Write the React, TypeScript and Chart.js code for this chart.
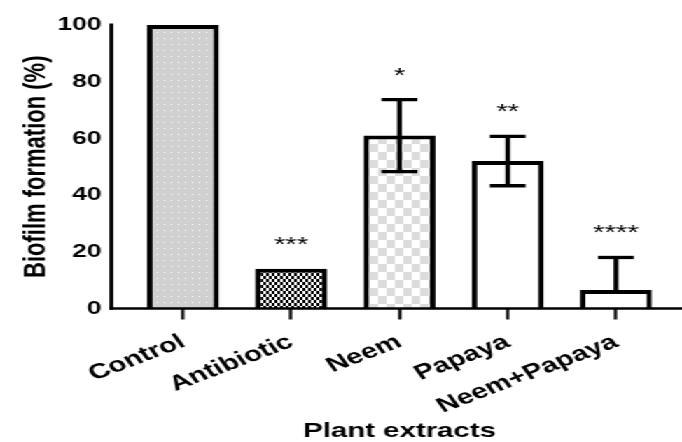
import React, { useEffect, useRef } from "react";
import { Chart, registerables } from "chart.js";

Chart.register(...registerables);

const categories = ["Control", "Antibiotic", "Neem", "Papaya", "Neem+Papaya"];
const biofilmValues = [100, 14, 61, 52, 6.5];
const errorValues = [0, 0, 12.7, 8.7, 11.5];
const significance = ["", "***", "*", "**", "****"];
const yTickValues = [0, 20, 40, 60, 80, 100];

const W = 487;
const H = 442;
const SX = 682 / 487;
const FONT = "'Liberation Sans', Arial, Helvetica, sans-serif";

function makePattern(kind: string): CanvasPattern | string {
  const c = document.createElement("canvas");
  const g = c.getContext("2d");
  if (!g) return "#fff";
  if (kind === "dots") {
    c.width = 5; c.height = 6;
    g.fillStyle = "#d0d0d0"; g.fillRect(0, 0, 5, 6);
    g.fillStyle = "#ffffff"; g.fillRect(2, 2, 1, 1);
  } else if (kind === "fine") {
    c.width = 4; c.height = 6;
    g.fillStyle = "#ffffff"; g.fillRect(0, 0, 4, 6);
    g.fillStyle = "#000000"; g.fillRect(0, 0, 2, 3); g.fillRect(2, 3, 2, 3);
  } else {
    c.width = 12; c.height = 16;
    g.fillStyle = "#ffffff"; g.fillRect(0, 0, 12, 16);
    g.fillStyle = "#dcdcdc"; g.fillRect(0, 0, 6, 8); g.fillRect(6, 8, 6, 8);
  }
  return g.createPattern(c, "repeat") || "#fff";
}

const overlayPlugin = {
  id: "overlay",
  afterDatasetsDraw(chart: any) {
    const { ctx, scales } = chart;
    const y = scales.y;
    const meta = chart.getDatasetMeta(0);
    ctx.save();
    ctx.strokeStyle = "#000";
    ctx.fillStyle = "#000";
    meta.data.forEach((bar: any, i: number) => {
      const v = biofilmValues[i];
      const err = errorValues[i];
      let topPx = y.getPixelForValue(v);
      if (err > 0) {
        const yTop = y.getPixelForValue(v + err);
        const yBot = v - err > 0 ? y.getPixelForValue(v - err) : bar.y;
        topPx = yTop;
        ctx.lineWidth = 3.4;
        ctx.beginPath();
        ctx.moveTo(bar.x, yTop);
        ctx.lineTo(bar.x, yBot);
        ctx.stroke();
        ctx.lineWidth = 3.3;
        ctx.beginPath();
        ctx.moveTo(bar.x - 12.8, yTop);
        ctx.lineTo(bar.x + 12.8, yTop);
        if (v - err > 0) {
          ctx.moveTo(bar.x - 12.8, yBot);
          ctx.lineTo(bar.x + 12.8, yBot);
        }
        ctx.stroke();
      }
      const s = significance[i];
      if (s) {
        ctx.font = `21px ${FONT}`;
        ctx.textAlign = "center";
        ctx.textBaseline = "alphabetic";
        ctx.fillText(s, bar.x, topPx - 30 + 12);
      }
    });
    // axes
    const y0 = y.getPixelForValue(0);
    const y100 = y.getPixelForValue(100);
    const axisX = 79.5;
    ctx.lineWidth = 2.8;
    ctx.beginPath();
    ctx.moveTo(axisX, y100 - 1.5);
    ctx.lineTo(axisX, y0 + 1.25);
    ctx.stroke();
    ctx.lineWidth = 2.5;
    ctx.beginPath();
    ctx.moveTo(axisX - 1.4, y0);
    ctx.lineTo(W, y0);
    ctx.stroke();
    ctx.restore();
  },
};

export default function App() {
  const ref = useRef<HTMLCanvasElement | null>(null);
  useEffect(() => {
    if (!ref.current) return;
    const fills = [makePattern("dots"), makePattern("fine"), makePattern("check"), "#ffffff", "#ffffff"];
    const chart = new Chart(ref.current, {
      type: "bar",
      data: {
        labels: categories,
        datasets: [
          {
            data: biofilmValues,
            backgroundColor: fills as any,
            borderColor: "#000",
            borderWidth: 4,
            borderSkipped: "start",
            barPercentage: 0.665,
            categoryPercentage: 1,
          },
        ],
      },
      options: {
        animation: false,
        responsive: false,
        layout: { padding: { top: 25, right: 8.5, left: 0, bottom: 0 } },
        plugins: { legend: { display: false }, tooltip: { enabled: false } },
        scales: {
          x: {
            type: "category",
            offset: true,
            grid: {
              display: true,
              drawOnChartArea: false,
              drawTicks: true,
              tickLength: 11,
              tickWidth: 2.2,
              tickColor: "#000",
              offset: false,
            },
            border: { display: false },
            ticks: {
              autoSkip: false,
              maxRotation: 28,
              minRotation: 28,
              color: "#000",
              padding: 10,
              font: { family: FONT, size: 21, weight: "bold" },
            },
            title: {
              display: true,
              text: "Plant extracts",
              color: "#000",
              font: { family: FONT, size: 21, weight: "bold", lineHeight: 1 },
              padding: { top: 0, bottom: 0 },
            },
            afterFit(scale: any) {
              scale.height = 133.5;
            },
          },
          y: {
            min: 0,
            max: 100,
            grid: {
              display: true,
              drawOnChartArea: false,
              drawTicks: true,
              tickLength: 15.4,
              tickColor: "rgba(0,0,0,0)",
            },
            border: { display: false },
            afterBuildTicks(scale: any) {
              scale.ticks = yTickValues.map((v) => ({ value: v }));
            },
            ticks: {
              color: "#000",
              padding: 4,
              font: { family: FONT, size: 19, weight: "bold" },
            },
            title: {
              display: true,
              text: "Biofilm formation (%)",
              color: "#000",
              font: { family: FONT, size: 22, weight: "bold", lineHeight: 1 },
              padding: { top: 14.7, bottom: 0 },
            },
            afterFit(scale: any) {
              scale.width = 92;
            },
          },
        },
      },
      plugins: [overlayPlugin],
    } as any);
    return () => chart.destroy();
  }, []);
  return (
    <div
      style={{
        position: "absolute",
        left: 0,
        top: 0,
        width: W,
        height: H,
        transform: `scaleX(${SX})`,
        transformOrigin: "0 0",
        background: "#fff",
      }}
    >
      <canvas ref={ref} width={W} height={H} />
    </div>
  );
}
